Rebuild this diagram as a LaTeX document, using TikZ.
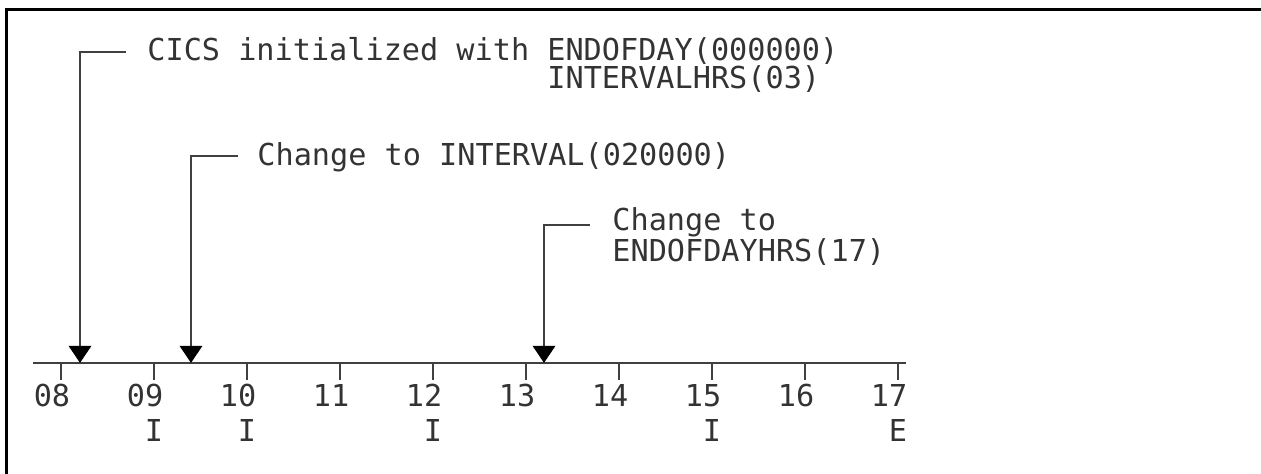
\documentclass[tikz,border=0pt]{standalone}
\usepackage{fontspec}
\setmonofont{DejaVu Sans Mono}
\usetikzlibrary{arrows.meta}

\begin{document}
\begin{tikzpicture}[
    x=0.5pt, y=-0.5pt,
    every node/.style={inner sep=0pt, text=black!80,
        font=\ttfamily\fontsize{15.1pt}{14pt}\selectfont},
    hour/.style={anchor=base},
    flag/.style={anchor=base},
    note/.style={anchor=base west, align=left},
    tickline/.style={draw=black!75, line width=1.4pt},
    event/.style={draw=black!75, line width=1.4pt,
        -{Triangle[width=11pt, length=8.5pt, black]}}
]
    \useasboundingbox (0,0) rectangle (1261,474);

    % frame
    \draw[line width=1.5pt] (1261,10) -- (6,10) -- (6,474);

    % time axis
    \coordinate (axisL) at (33,363);
    \coordinate (axisR) at (906,363);
    \draw[tickline] (axisL) -- (axisR);

    \draw[tickline] (61,363) -- ++(0,17);
    \draw[tickline] (154,363) -- ++(0,17);
    \draw[tickline] (247,363) -- ++(0,17);
    \draw[tickline] (340,363) -- ++(0,17);
    \draw[tickline] (433,363) -- ++(0,17);
    \draw[tickline] (526,363) -- ++(0,17);
    \draw[tickline] (619,363) -- ++(0,17);
    \draw[tickline] (712,363) -- ++(0,17);
    \draw[tickline] (805,363) -- ++(0,17);
    \draw[tickline] (898,363) -- ++(0,17);

    \node[hour] (h08) at (52,407) {08};
    \node[hour] (h09) at (145,407) {09};
    \node[hour] (h10) at (238,407) {10};
    \node[hour] (h11) at (331,407) {11};
    \node[hour] (h12) at (424,407) {12};
    \node[hour] (h13) at (517,407) {13};
    \node[hour] (h14) at (610,407) {14};
    \node[hour] (h15) at (703,407) {15};
    \node[hour] (h16) at (796,407) {16};
    \node[hour] (h17) at (889,407) {17};

    \node[flag] (f09) at (154,442) {I};
    \node[flag] (f10) at (247,442) {I};
    \node[flag] (f12) at (433,442) {I};
    \node[flag] (f15) at (712,442) {I};
    \node[flag] (f17) at (898,442) {E};

    % events (base = last line)
    \node[note] (note1) at (147,89)
        {CICS initialized with ENDOFDAY(000000)\\
         \hphantom{CICS initialized with }INTERVALHRS(03)};
    \node[note] (note2) at (257,166) {Change to INTERVAL(020000)};
    \node[note] (note3) at (612,262) {Change to\\ENDOFDAYHRS(17)};

    \coordinate (s1) at (126,52);
    \coordinate (t1) at (80,363);
    \coordinate (s2) at (238,156);
    \coordinate (t2) at (191,363);
    \coordinate (s3) at (590,225);
    \coordinate (t3) at (544,363);

    \draw[event] (s1) -| (t1);
    \draw[event] (s2) -| (t2);
    \draw[event] (s3) -| (t3);
\end{tikzpicture}
\end{document}
